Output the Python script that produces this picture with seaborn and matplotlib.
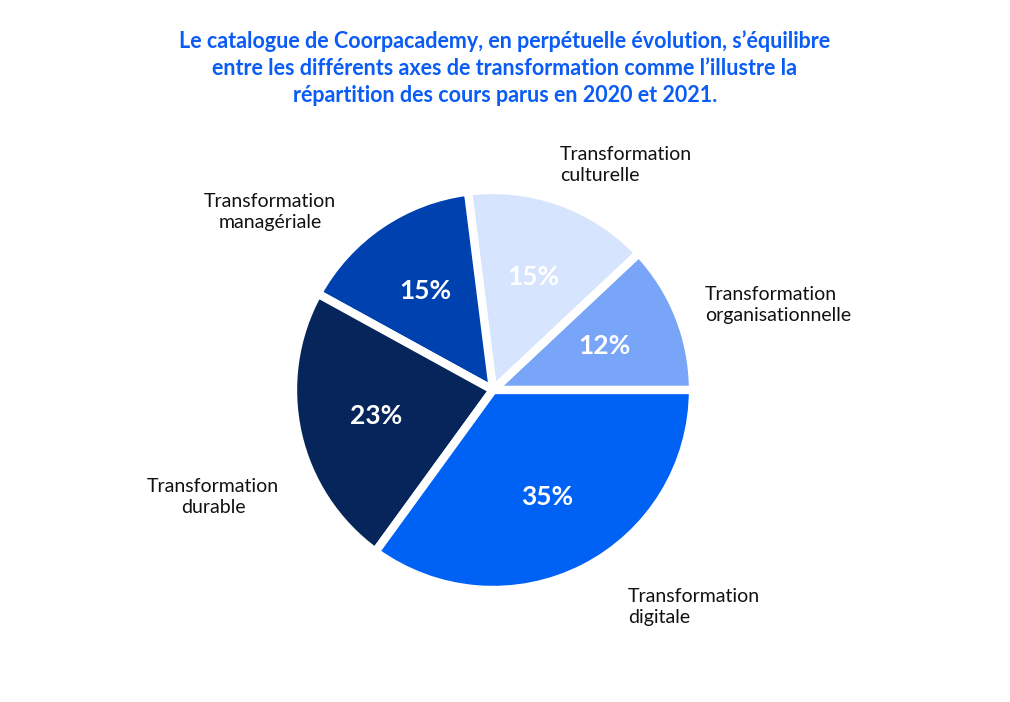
import matplotlib
matplotlib.use("Agg")
import matplotlib.pyplot as plt
import seaborn as sns
import numpy as np

sns.set_theme(style="white")
plt.rcParams['font.family'] = ['Lato', 'DejaVu Sans']

categories = ["Transformation\norganisationnelle", "Transformation\nculturelle",
              "Transformation\nmanagériale", "Transformation\ndurable",
              "Transformation\ndigitale"]
values = [12, 15, 15, 23, 35]
colors = ["#78A5F7", "#D6E4FD", "#0041B0", "#06255A", "#0061F5"]

fig = plt.figure(figsize=(10.1, 7.02), dpi=100)
fig.patch.set_facecolor("white")
ax = fig.add_axes([293/1010, (702-590)/702, 400/1010, 400/702])
wedges, texts, autotexts = ax.pie(values, colors=colors, startangle=0, counterclock=True,
        autopct=lambda p: f"{p:.0f}%", pctdistance=0.6,
        wedgeprops=dict(edgecolor="white", linewidth=6),
        textprops=dict(color="white", fontsize=19, fontweight="bold"))
ax.set_xlim(-1, 1); ax.set_ylim(-1, 1); ax.set_aspect("equal")

def px(x, y):
    return (x-493)/200, (390-y)/200

label_pos = [((705, 305), "left"), ((560, 165), "left"), ((270, 212), "center"),
             ((213, 497), "center"), ((628, 607), "left")]
for lab, ((x, y), ha) in zip(categories, label_pos):
    dx, dy = px(x, y)
    ax.text(dx, dy, lab, ha=ha, va="center", fontsize=14, color="#111111",
            clip_on=False, linespacing=1.3)

fig.text(0.5, 1-68/702, "Le catalogue de Coorpacademy, en perpétuelle évolution, s’équilibre\n"
         "entre les différents axes de transformation comme l’illustre la\n"
         "répartition des cours parus en 2020 et 2021.",
         ha="center", va="center", fontsize=15.5, fontweight="bold", color="#0A5CF5",
         linespacing=1.35)
fig.savefig("out.png", dpi=100, facecolor="white")
